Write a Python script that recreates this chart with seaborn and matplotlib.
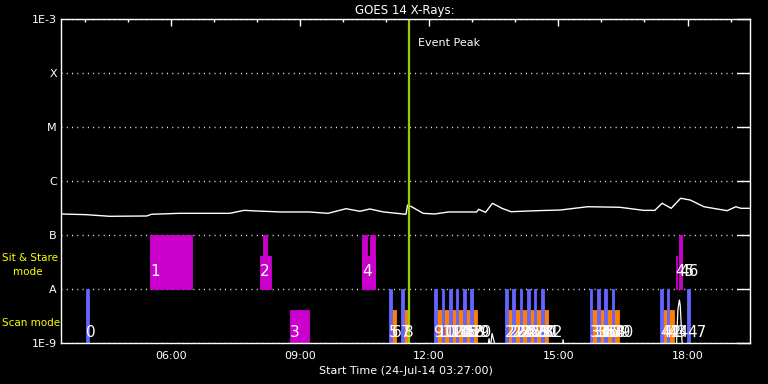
import numpy as np
import pandas as pd
import matplotlib
matplotlib.use("Agg")
import matplotlib.pyplot as plt
import seaborn as sns

# GOES long channel (1-8 A), hours after midnight 24-Jul-14
goes_hours = [3.45, 4.04, 4.58, 5.44, 5.55, 6.19, 7.37, 7.70, 8.02, 8.56, 9.21, 9.65,
              10.07, 10.39, 10.62, 10.94, 11.46, 11.50, 11.59, 11.86, 12.13, 12.45,
              13.10, 13.15, 13.31, 13.47, 13.69, 13.90, 14.50, 15.04, 15.68, 16.43,
              16.98, 17.24, 17.41, 17.62, 17.84, 18.06, 18.38, 18.92, 19.12, 19.24, 19.45]
goes_flux = [2.45e-7, 2.38e-7, 2.22e-7, 2.25e-7, 2.42e-7, 2.52e-7, 2.52e-7, 2.86e-7,
             2.78e-7, 2.67e-7, 2.67e-7, 2.52e-7, 3.07e-7, 2.75e-7, 3.03e-7, 2.67e-7,
             2.42e-7, 3.60e-7, 3.34e-7, 2.52e-7, 2.45e-7, 2.67e-7, 2.67e-7, 2.99e-7,
             2.63e-7, 3.87e-7, 3.12e-7, 2.70e-7, 2.82e-7, 2.90e-7, 3.34e-7, 3.26e-7,
             2.86e-7, 2.86e-7, 3.87e-7, 3.12e-7, 4.79e-7, 4.45e-7, 3.34e-7, 2.82e-7,
             3.34e-7, 3.12e-7, 3.12e-7]

# GOES short channel (0.5-4 A), mostly below the plot floor
short_hours = [3.45, 13.32, 13.39, 13.42, 13.46, 13.51, 13.55, 15.06, 15.11, 15.15,
               17.73, 17.775, 17.81, 17.83, 17.87, 17.90, 19.45]
short_flux = [5e-10, 5e-10, 1.2e-9, 8e-10, 1.5e-9, 1.05e-9, 5e-10, 5e-10, 1.15e-9, 5e-10,
              5e-10, 4.1e-9, 6.25e-9, 5e-9, 1.14e-9, 5e-10, 5e-10]

# IRIS scan observations: short blue raster start + orange raster
blue_start = [4.03, 11.07, 11.35, 12.11, 12.29, 12.46, 12.62, 12.79, 12.95,
              13.76, 13.93, 14.10, 14.27, 14.43, 14.60, 15.73, 15.90, 16.06, 16.24,
              17.36, 17.52, 17.99]
blue_end = [4.09, 11.13, 11.41, 12.17, 12.35, 12.52, 12.68, 12.85, 13.01,
            13.82, 13.99, 14.16, 14.33, 14.49, 14.66, 15.79, 15.96, 16.12, 16.30,
            17.42, 17.58, 18.05]
blue_labels = ["0", "5", "7", "9", "11", "13", "15", "17", "19",
               "21", "23", "25", "27", "29", "31", "33", "35", "37", "39",
               "41", "43", "47"]
orange_start = [11.13, 11.41, 12.17, 12.35, 12.52, 12.68, 12.85, 13.01,
                13.82, 13.99, 14.16, 14.33, 14.49, 14.66, 15.79, 15.96, 16.12, 16.30,
                17.42, 17.58]
orange_end = [11.22, 11.51, 12.29, 12.46, 12.62, 12.79, 12.95, 13.11,
              13.93, 14.10, 14.27, 14.43, 14.60, 14.76, 15.90, 16.06, 16.24, 16.41,
              17.52, 17.69]
orange_labels = ["6", "8", "10", "12", "14", "16", "18", "20",
                 "22", "24", "26", "28", "30", "32", "34", "36", "38", "40",
                 "42", "44"]
scan_mag_start = [8.77]
scan_mag_end = [9.21]
scan_mag_labels = ["3"]

# sit & stare observations
ss_start = [5.52, 8.06, 8.14, 10.45, 10.45, 10.63, 17.72, 17.80]
ss_end = [6.49, 8.32, 8.23, 10.74, 10.55, 10.74, 17.76, 17.86]
ss_top = [1e-7, 4.1e-8, 1e-7, 4.1e-8, 1e-7, 1e-7, 4.1e-8, 1e-7]
ss_labels = ["1", "2", "", "4", "", "", "45", "46"]

event_peak = 11.53
t_start, t_end = 3.45, 19.45

ytick_vals = [1e-9, 1e-8, 1e-7, 1e-6, 1e-5, 1e-4, 1e-3]
ytick_labels = ["1E-9", "A", "B", "C", "M", "X", "1E-3"]
xtick_hours = [6, 9, 12, 15, 18]
xtick_labels = ["06:00", "09:00", "12:00", "15:00", "18:00"]

sns.set_style("dark", rc={
    "axes.facecolor": "black", "figure.facecolor": "black",
    "axes.edgecolor": "white", "text.color": "white",
    "xtick.color": "white", "ytick.color": "white",
    "xtick.direction": "in", "ytick.direction": "in",
    "axes.grid": False,
})
plt.rcParams["font.family"] = ["DejaVu Sans"]

BLUE = "#6464ff"
ORANGE = "#ff8000"
MAGENTA = "#cc00cc"

fig = plt.figure(figsize=(7.68, 3.84), dpi=100)
ax = fig.add_axes([61 / 768, 1 - 343 / 384, 689 / 768, 324 / 384])
ax.set_yscale("log")

# bars (thin edge in the same colour so narrow bars stay solid)
ax.bar(orange_start, np.full(len(orange_start), 4.1e-9 - 1e-9),
       width=np.subtract(orange_end, orange_start), bottom=1e-9,
       align="edge", color=ORANGE, edgecolor=ORANGE, linewidth=0.6)
ax.bar(scan_mag_start, [4.1e-9 - 1e-9], width=np.subtract(scan_mag_end, scan_mag_start),
       bottom=1e-9, align="edge", color=MAGENTA, edgecolor=MAGENTA, linewidth=0.6)
ax.bar(blue_start, np.full(len(blue_start), 1e-8 - 1e-9),
       width=np.subtract(blue_end, blue_start), bottom=1e-9,
       align="edge", color=BLUE, edgecolor=BLUE, linewidth=0.6)
ax.bar(ss_start, np.subtract(ss_top, 1e-8), width=np.subtract(ss_end, ss_start),
       bottom=1e-8, align="edge", color=MAGENTA, edgecolor=MAGENTA, linewidth=0.6)

# flux curves
df_long = pd.DataFrame({"t": goes_hours, "flux": goes_flux})
df_short = pd.DataFrame({"t": short_hours, "flux": short_flux})
sns.lineplot(data=df_long, x="t", y="flux", ax=ax, color="white", lw=1, estimator=None)
sns.lineplot(data=df_short, x="t", y="flux", ax=ax, color="white", lw=0.9, estimator=None)

# labels on observations
for t, s in zip(blue_start + orange_start + scan_mag_start,
                blue_labels + orange_labels + scan_mag_labels):
    ax.text(t, 1.56e-9, s, color="white", fontsize=11, ha="left", va="center")
for t, s in zip(ss_start, ss_labels):
    if s:
        ax.text(t, 2.07e-8, s, color="white", fontsize=11, ha="left", va="center")

# event peak
ax.axvline(event_peak, color="#99cc00", lw=1.6)
ax.text(event_peak + 0.2, 3.6e-4, "Event Peak", color="white", fontsize=8,
        ha="left", va="center")

ax.set_xlim(t_start, t_end)
ax.set_ylim(1e-9, 1e-3)
ax.set_yticks(ytick_vals)
ax.set_yticklabels(ytick_labels)
ax.yaxis.set_minor_locator(matplotlib.ticker.NullLocator())
ax.set_xticks(xtick_hours)
ax.set_xticklabels(xtick_labels)
ax.set_xticks(np.arange(4, 20), minor=True)
ax.tick_params(axis="y", which="major", length=9.5, width=1, right=True, labelsize=8, pad=3)
ax.tick_params(axis="x", which="major", length=5, width=1, top=True, labelsize=8, pad=6)
ax.tick_params(axis="x", which="minor", length=2.5, width=1, top=True)
ax.yaxis.grid(True, which="major", color="white", linestyle=(0, (0.7, 3.1)), lw=1)
for sp in ax.spines.values():
    sp.set_color("white")
    sp.set_linewidth(1)

ax.set_xlabel("Start Time (24-Jul-14 03:27:00)", fontsize=8, color="white", labelpad=3)
ax.set_ylabel("")
fig.text(405 / 768, 1 - 10.5 / 384, "GOES 14 X-Rays:", fontsize=8.5, color="white",
         ha="center", va="center")
fig.text(2 / 768, 1 - 258 / 384, "Sit & Stare", fontsize=7.5, color="#ffff00",
         ha="left", va="center")
fig.text(13 / 768, 1 - 272 / 384, "mode", fontsize=7.5, color="#ffff00",
         ha="left", va="center")
fig.text(2 / 768, 1 - 323.5 / 384, "Scan mode", fontsize=7.5, color="#ffff00",
         ha="left", va="center")

fig.savefig("out.png", dpi=100, facecolor="black")
